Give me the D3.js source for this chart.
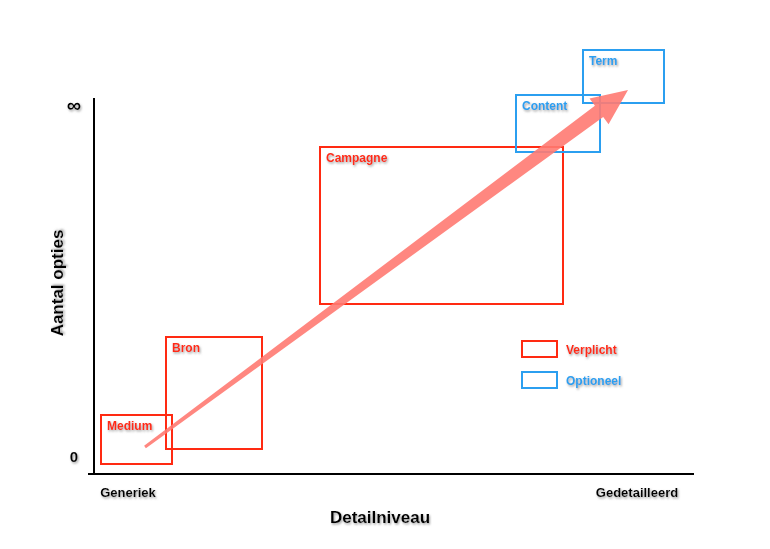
<!DOCTYPE html><html><head><meta charset="utf-8">
<script src="https://cdn.jsdelivr.net/npm/d3@7"></script>
<style>body{margin:0;background:#fff}text{font-family:"Liberation Sans",Arial,sans-serif;font-weight:bold}</style></head>
<body><svg id="c" width="770" height="549"></svg>
<script>
const boxNames=["Medium","Bron","Campagne","Content","Term"];
const boxX0=[7,72,226,422,489], boxX1=[78,168,469,506,570];
const boxY0=[10,25,170,322,371], boxY1=[59,137,327,379,424];
const boxType=["req","req","req","opt","opt"];
const arrowFrom=[51,27], arrowTo=[534,384];
const legendLabels=["Verplicht","Optioneel"];
const colors={req:"#ff2a12",opt:"#2b9ff0"};
const svg=d3.select("#c");
const x=d3.scaleLinear().domain([0,600]).range([94,694]);
const y=d3.scaleLinear().domain([0,380]).range([474,94]);
const defs=svg.append("defs");
const f=defs.append("filter").attr("id","sh").attr("x","-20%").attr("y","-40%").attr("width","140%").attr("height","180%");
f.append("feDropShadow").attr("dx",1).attr("dy",1.5).attr("stdDeviation",1).attr("flood-color","#888").attr("flood-opacity",0.8);
// axes
svg.append("line").attr("x1",x(0)).attr("x2",x(0)).attr("y1",98).attr("y2",y(0)).attr("stroke","#000").attr("stroke-width",2);
svg.append("line").attr("x1",88).attr("x2",x(600)).attr("y1",y(0)).attr("y2",y(0)).attr("stroke","#000").attr("stroke-width",2);
const t=(s,px,py,size,anchor,extra)=>{const e=svg.append("text").text(s).attr("x",px).attr("y",py).attr("font-size",size).attr("text-anchor",anchor||"start").attr("filter","url(#sh)");return e;};
t("0",74,462,15,"middle");
t("∞",74,112,20,"middle");
t("Generiek",128,497,13,"middle");
t("Gedetailleerd",637,497,13,"middle");
t("Detailniveau",380,523,17,"middle");
t("Aantal opties",0,0,17,"middle").attr("transform","translate(63,283) rotate(-90)");
// boxes
boxNames.forEach((n,i)=>{
 svg.append("rect").attr("x",x(boxX0[i])).attr("y",y(boxY1[i])).attr("width",x(boxX1[i])-x(boxX0[i])).attr("height",y(boxY0[i])-y(boxY1[i])).attr("fill","none").attr("stroke",colors[boxType[i]]).attr("stroke-width",2);
});
// arrow
const ax0=x(arrowFrom[0]),ay0=y(arrowFrom[1]),ax1=x(arrowTo[0]),ay1=y(arrowTo[1]);
const L=Math.hypot(ax1-ax0,ay1-ay0),ang=Math.atan2(ay1-ay0,ax1-ax0)*180/Math.PI;
const hl=36,hw=16;
svg.append("path").attr("d",`M0,-1.5 L${L-hl},-7 L${L-hl},-${hw} L${L},0 L${L-hl},${hw} L${L-hl},7 L0,1.5 Z`)
 .attr("fill","#ff7a72").attr("opacity",0.9).attr("transform",`translate(${ax0},${ay0}) rotate(${ang})`);
boxNames.forEach((n,i)=>{
 t(n,x(boxX0[i])+6,y(boxY1[i])+15,12).attr("fill",colors[boxType[i]]);
});
// legend
["req","opt"].forEach((k,i)=>{
 svg.append("rect").attr("x",522).attr("y",341+i*31).attr("width",35).attr("height",16).attr("fill","none").attr("stroke",colors[k]).attr("stroke-width",2);
 t(legendLabels[i],566,354+i*31,12).attr("fill",colors[k]);
});
</script></body></html>
